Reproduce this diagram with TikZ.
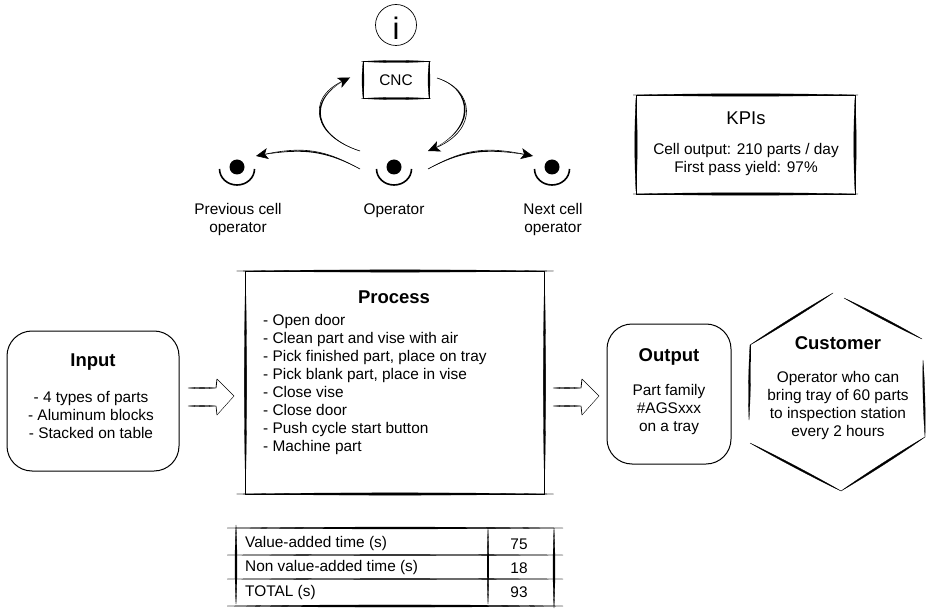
\documentclass[tikz,border=0pt]{standalone}
\usepackage{fontspec}
\setmainfont{Liberation Sans}
\usetikzlibrary{calc,arrows.meta}
\newcommand\skstroke[3]{\filldraw[line width=.3pt] (#1) .. controls ($(#1)!.3!(#2)!#3!90:(#2)$) and ($(#1)!.7!(#2)!#3!90:(#2)$) .. (#2) .. controls ($(#1)!.7!(#2)!#3!-90:(#2)$) and ($(#1)!.3!(#2)!#3!-90:(#2)$) .. (#1) -- cycle;}
% sketch rectangle drawn along the corners of a node, with overshoot
\newcommand\skbox[3]{%
 \draw[line width=.8pt] (#1.north west) rectangle (#1.south east);
 \coordinate (sk1) at ($(#1.north west)+(-#2,0)$);\coordinate (sk2) at ($(#1.north east)+(#2,0)$);\skstroke{sk1}{sk2}{#3}
 \coordinate (sk1) at ($(#1.south west)+(-#2,0)$);\coordinate (sk2) at ($(#1.south east)+(#2,0)$);\skstroke{sk1}{sk2}{#3}
 \coordinate (sk1) at ($(#1.north west)+(0,-#2)$);\coordinate (sk2) at ($(#1.south west)+(0,#2)$);\skstroke{sk1}{sk2}{#3}
 \coordinate (sk1) at ($(#1.north east)+(0,-#2)$);\coordinate (sk2) at ($(#1.south east)+(0,#2)$);\skstroke{sk1}{sk2}{#3}}
% curved tapered connector
\newcommand\skcurve[5]{\fill (#1) .. controls (#2) and (#3) .. (#4) .. controls ($(#3)+(#5)$) and ($(#2)+(#5)$) .. (#1) -- cycle;}
\newcommand\blockarrow[3]{%
 \begin{scope}[shift={(#2,#3)}]
  \coordinate (#1a) at (0,0);\coordinate (#1b) at (28,0);\coordinate (#1c) at (29,-9);
  \coordinate (#1d) at (46,8);\coordinate (#1e) at (29,27);\coordinate (#1f) at (28,18);\coordinate (#1g) at (0,18);
  \skstroke{#1a}{#1b}{.7pt}\skstroke{#1g}{#1f}{.7pt}
  \draw[line width=.8pt] (#1b)--(#1c);\draw[line width=.7pt] (#1f)--(#1e);
  \draw[line width=.4pt] (#1c)--(#1d);\draw[line width=.4pt] (#1d)--(#1e);
 \end{scope}}
\tikzset{
 txt/.style={font=\fontsize{15.4}{18}\selectfont,align=center,inner sep=0pt},
 lefttxt/.style={txt,align=left,anchor=west},
 ttl/.style={font=\fontsize{18.5}{22}\selectfont\bfseries,inner sep=0pt},
 kpi/.style={font=\fontsize{18.5}{22}\selectfont,inner sep=0pt},
 frame/.style={inner sep=0pt,outer sep=0pt},
 round/.style={frame,draw,line width=1pt,rounded corners=25pt},
 conn/.style={line width=.6pt,-{Stealth[length=12pt,width=11pt,inset=3pt]}},
 dot/.style={circle,fill=black,inner sep=0pt,minimum size=15pt},
 smile/.style={line width=1.6pt}
}
\begin{document}
\begin{tikzpicture}[x=1pt,y=-1pt]
\useasboundingbox (0,0) rectangle (928,609);
% info
\node[frame,circle,draw,line width=.7pt,minimum size=41pt] (info) at (396,25) {};
\node[inner sep=0pt,font=\fontsize{31}{32}\selectfont] (infoi) at (396,28) {i};
% CNC
\node[frame,minimum width=66pt,minimum height=37pt,txt] (cnc) at (396,80) {CNC};
\skbox{cnc}{1.5pt}{1.3pt}
% operators
\foreach \n/\x in {prev/237,op/394,next/552}{
 \node[dot] (\n) at (\x,167) {};
 \draw[smile] ($(\n)+(-17.5,2)$) arc[start angle=180,end angle=0,x radius=17.5pt,y radius=-16pt];
}
\node[txt] (prevl) at (238,219.5) {Previous cell\\operator};
\node[txt] (opl) at (394,210.5) {Operator};
\node[txt] (nextl) at (553,219.5) {Next cell\\operator};
% cycle connectors
\coordinate (opUL) at ($(op)+(-34,-16)$);
\coordinate (opUR) at ($(op)+(34,-16)$);
\coordinate (opDL) at ($(op)+(-34,2)$);
\coordinate (opDR) at ($(op)+(34,2)$);
\coordinate (cncW) at ($(cnc.west)+(-13,-2.5)$);
\coordinate (cncE) at ($(cnc.east)+(8,-2)$);
\coordinate (prevE) at ($(prev)+(19,-11)$);
\coordinate (nextW) at ($(next)+(-19,-11)$);
\draw[conn] (opUL) .. controls (316,137) and (304,100) .. (cncW);
\skcurve{opUL}{316,137}{304,100}{cncW}{-2,0}
\draw[conn] (cncE) .. controls (475,90) and (478,130) .. (opUR);
\skcurve{cncE}{475,90}{478,130}{opUR}{-2,0}
\draw[conn] (opDL) .. controls (325,150) and (305,146) .. (prevE);
\skcurve{opDL}{325,150}{305,146}{prevE}{0,1.5}
\draw[conn] (opDR) .. controls (463,150) and (483,146) .. (nextW);
\skcurve{opDR}{463,150}{483,146}{nextW}{0,1.5}
% KPI
\node[frame,minimum width=219pt,minimum height=99pt] (kpibox) at (745.5,144.5) {};
\skbox{kpibox}{3pt}{1.6pt}
\node[kpi] (kpit) at (746,118) {KPIs};
\node[txt] (kpil) at (746,160) {Cell output: 210 parts / day\\First pass yield: 97\%};
% Input
\node[round,minimum width=172pt,minimum height=140pt] (input) at (93,401) {};
\node[ttl] (inputt) at (93,362) {Input};
\node[txt] (inputl) at (91,415) {- 4 types of parts\\- Aluminum blocks\\- Stacked on table};
\blockarrow{pa}{188}{388}
% Process
\node[frame,minimum width=299pt,minimum height=223pt] (proc) at (395,382.5) {};
\skbox{proc}{9pt}{1.5pt}
\node[ttl] (proct) at (394,297) {Process};
\node[lefttxt] (procl) at (263,385) {- Open door\\- Clean part and vise with air\\- Pick finished part, place on tray\\- Pick blank part, place in vise\\- Close vise\\- Close door\\- Push cycle start button\\- Machine part};
\blockarrow{pb}{553}{388}
% Output
\node[round,minimum width=124pt,minimum height=140pt] (output) at (669,394) {};
\node[ttl] (outt) at (669,357) {Output};
\node[txt] (outl) at (669,410) {Part family\\\#AGSxxx\\on a tray};
% Customer
\coordinate (h1) at (750,345);\coordinate (h2) at (833,293);
\coordinate (h3) at (844,298);\coordinate (h4) at (922,339);
\coordinate (h5) at (923,360);\coordinate (h6) at (925,437);
\coordinate (h7) at (841,491);\coordinate (h8) at (750,443);\coordinate (h9) at (749,420);
\skstroke{h1}{h2}{1.2pt}\skstroke{h3}{h4}{1.2pt}\skstroke{h5}{h6}{1.2pt}
\skstroke{h6}{h7}{1.3pt}\skstroke{h7}{h8}{1.2pt}\skstroke{h9}{h1}{1.2pt}
\draw[line width=.8pt] (h1)--(750,362);
\node[ttl] (cust) at (838,343) {Customer};
\node[txt] (custl) at (838,406) {Operator who can\\bring tray of 60 parts\\to inspection station\\every 2 hours};
% table
\coordinate (t1) at (227,528);\coordinate (t2) at (563,528);
\coordinate (t3) at (227,555);\coordinate (t4) at (563,555);
\coordinate (t5) at (227,579);\coordinate (t6) at (563,579);
\coordinate (t7) at (227,606);\coordinate (t8) at (563,606);
\skstroke{t1}{t2}{1.2pt}\skstroke{t3}{t4}{.7pt}\skstroke{t5}{t6}{.7pt}\skstroke{t7}{t8}{1.4pt}
\coordinate (v1) at (236,525);\coordinate (v2) at (236,604);
\coordinate (v3) at (488,528);\coordinate (v4) at (488,604);
\coordinate (v5) at (554,528);\coordinate (v6) at (554,608);
\skstroke{v1}{v2}{1.3pt}\skstroke{v3}{v4}{1.1pt}\skstroke{v5}{v6}{1.3pt}
\node[lefttxt] (r1) at (245,543.5) {Value-added time (s)};
\node[lefttxt] (r2) at (245,567.5) {Non value-added time (s)};
\node[lefttxt] (r3) at (245,592.5) {TOTAL (s)};
\node[txt] (n1) at (519,544) {75};
\node[txt] (n2) at (519,568) {18};
\node[txt] (n3) at (519,592.5) {93};
\end{tikzpicture}
\end{document}
